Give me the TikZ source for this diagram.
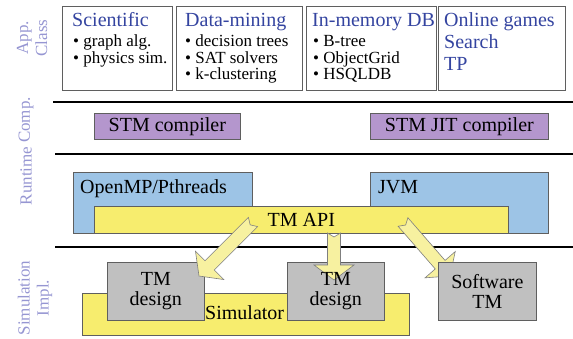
\documentclass[tikz,border=0pt]{standalone}
\usepackage{fontspec}
\setmainfont{Liberation Serif}
\newfontfamily\romanface{Liberation Serif}
\usetikzlibrary{calc}

\definecolor{titleblue}{RGB}{52,68,160}
\definecolor{sidelabel}{RGB}{150,150,210}
\definecolor{compfill}{RGB}{180,150,205}
\definecolor{rtfill}{RGB}{157,196,230}
\definecolor{apifill}{RGB}{247,237,110}
\definecolor{arrowfill}{RGB}{247,241,160}
\definecolor{implfill}{RGB}{192,192,192}
\definecolor{edge}{RGB}{95,95,95}

% fat block arrow from #1 (tail) to #2 (tip), with a small notch at the tail
\newcommand\blockarrow[2]{%
  \coordinate (ba-h) at ($(#2)!15pt!(#1)$);
  \filldraw[apiarrow]
    ($(#1)!6.5pt!90:(#2)$) -- ($(ba-h)!6.5pt!90:(#2)$) -- ($(ba-h)!20pt!90:(#2)$)
    -- (#2) -- ($(ba-h)!20pt!-90:(#2)$) -- ($(ba-h)!6.5pt!-90:(#2)$)
    -- ($(#1)!6.5pt!-90:(#2)$) -- ($(#1)!4pt!(#2)$) -- cycle;
}

\begin{document}
\begin{tikzpicture}[x=1pt,y=-1pt,
  classbox/.style={draw=edge, line width=0.9pt, fill=white, anchor=north west, inner sep=0pt},
  layerbox/.style={draw=edge, line width=0.7pt, anchor=north west, inner sep=0pt},
  big/.style={font=\romanface\fontsize{20}{20}\selectfont},
  titletext/.style={font=\romanface\fontsize{20}{21.7}\selectfont, text=titleblue, inner sep=0pt, align=left},
  bullettext/.style={font=\romanface\fontsize{17}{16.5}\selectfont, inner sep=0pt, align=left},
  sidetext/.style={font=\romanface\fontsize{17}{19}\selectfont, text=sidelabel, rotate=90, align=center, inner sep=0pt},
  sepline/.style={line width=2.4pt, black},
  apiarrow/.style={fill=arrowfill, draw=edge!80, line width=0.6pt, line join=miter}]
\useasboundingbox (0,0) rectangle (573,338);

% ---- application classes ----
\node[classbox, minimum width=110, minimum height=84] (sci)  at (62,6)  {};
\node[classbox, minimum width=126, minimum height=84] (dm)   at (176,6) {};
\node[classbox, minimum width=130, minimum height=84] (imdb) at (306,6) {};
\node[classbox, minimum width=127, minimum height=84] (og)   at (438,6) {};

% multi-line texts are placed by the baseline of their last line
\node[titletext, anchor=base west] (scit) at (72,26.7)  {Scientific};
\node[titletext, anchor=base west] (dmt)  at (185,26.7) {Data-mining};
\node[titletext, anchor=base west] (imt)  at (312,26.7) {In-memory DB};
\node[titletext, anchor=base west] (ogt)  at (444,70.1) {Online games\\Search\\TP};

\node[bullettext, anchor=base west] (scib) at (73,63)    {• graph alg.\\• physics sim.};
\node[bullettext, anchor=base west] (dmb)  at (185,79.5) {• decision trees\\• SAT solvers\\• k-clustering};
\node[bullettext, anchor=base west] (imb)  at (313,79.5) {• B-tree\\• ObjectGrid\\• HSQLDB};

% ---- layer separators ----
\draw[sepline] (53,102) -- (573,102);
\draw[sepline] (55,154) -- (573,154);
\draw[sepline] (55,247) -- (573,247);

% ---- side labels ----
\node[sidetext] (lapp)  at (32,38)  {App.\\Class};
\node[sidetext] (lcomp) at (26,120) {Comp.};
\node[sidetext] (lrt)   at (26,176) {Runtime};
\node[sidetext] (lsim)  at (35,298) {Simulation\\Impl.};

% ---- compilers ----
\node[layerbox, fill=compfill, minimum width=146, minimum height=26] (stmc) at (94,113) {};
\node[big] at (stmc.center) {STM compiler};
\node[layerbox, fill=compfill, minimum width=178, minimum height=26] (stmjit) at (370,113) {};
\node[big] at (stmjit.center) {STM JIT compiler};

% ---- runtime ----
\node[layerbox, fill=rtfill, minimum width=179, minimum height=61] (omp) at (73,172) {};
\node[big, anchor=base west, inner sep=0pt] at (80,193) {OpenMP/Pthreads};
\node[layerbox, fill=rtfill, minimum width=178, minimum height=61] (jvm) at (370,172) {};
\node[big, anchor=base west, inner sep=0pt] at (378,193) {JVM};
\node[layerbox, fill=apifill, minimum width=414, minimum height=27] (api) at (94,206) {};
\node[big] at (api.center) {TM API};

% ---- simulation / implementation ----
\node[layerbox, fill=apifill, minimum width=327, minimum height=42] (sim) at (82,293) {};
\node[big, anchor=base west, inner sep=0pt] at (205,319) {Simulator};
\node[layerbox, fill=implfill, minimum width=97, minimum height=58] (tmd1) at (107,262) {};
\node[layerbox, fill=implfill, minimum width=97, minimum height=58] (tmd2) at (287,262) {};

% ---- arrows from the TM API ----
\coordinate (a1s) at (253,222);
\coordinate (a1e) at (199,276);
\coordinate (a2s) at (334,233);
\coordinate (a2e) at (334,280);
\coordinate (a3s) at (403,222);
\coordinate (a3e) at (450,276);
\blockarrow{a1s}{a1e}
\blockarrow{a2s}{a2e}
\blockarrow{a3s}{a3e}

\node[layerbox, fill=implfill, minimum width=98, minimum height=58] (swtm) at (438,262) {};
\node[big, align=center] at (swtm.center) {Software\\TM};
\node[big, align=center] at (tmd1.center) {TM\\design};
\node[big, align=center] at (tmd2.center) {TM\\design};
\end{tikzpicture}
\end{document}
